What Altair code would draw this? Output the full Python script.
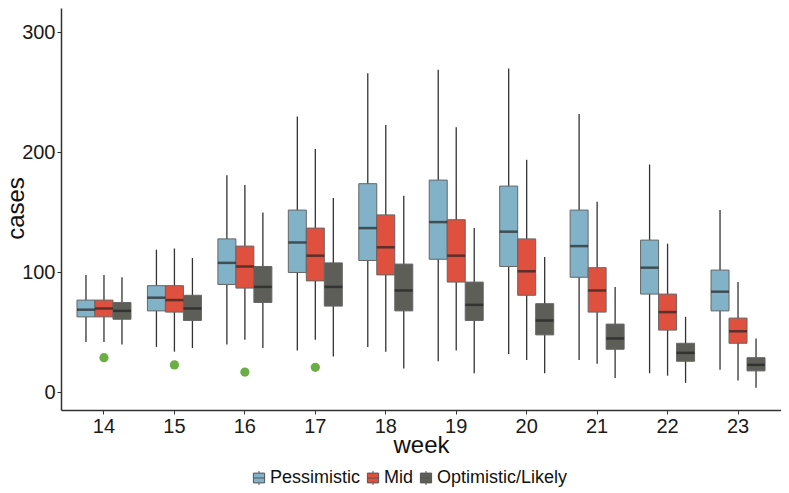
import altair as alt
import pandas as pd

weeks = [14, 15, 16, 17, 18, 19, 20, 21, 22, 23]
scenarios = ["Pessimistic", "Mid", "Optimistic/Likely"]
colors = ["#82B2C8", "#E0503E", "#5C5E57"]

pess_lo = [42, 38, 40, 35, 38, 26, 32, 27, 16, 19]
pess_q1 = [63, 68, 90, 100, 110, 111, 105, 96, 82, 68]
pess_med = [69, 79, 108, 125, 137, 142, 134, 122, 104, 84]
pess_q3 = [77, 89, 128, 152, 174, 177, 172, 152, 127, 102]
pess_hi = [98, 119, 181, 230, 266, 269, 270, 232, 190, 152]

mid_lo = [42, 34, 44, 44, 34, 35, 27, 24, 14, 10]
mid_q1 = [63, 67, 87, 93, 98, 92, 81, 67, 52, 41]
mid_med = [70, 77, 105, 114, 121, 114, 101, 85, 67, 51]
mid_q3 = [77, 89, 122, 137, 148, 144, 128, 104, 82, 62]
mid_hi = [98, 120, 173, 203, 223, 221, 194, 159, 124, 92]

opt_lo = [40, 37, 37, 30, 20, 16, 16, 12, 8, 4]
opt_q1 = [61, 60, 75, 72, 68, 60, 48, 36, 26, 18]
opt_med = [68, 70, 88, 88, 85, 73, 60, 45, 33, 23]
opt_q3 = [75, 81, 105, 108, 107, 92, 74, 57, 41, 29]
opt_hi = [96, 112, 150, 162, 164, 137, 113, 88, 63, 45]

obs_weeks = [14, 15, 16, 17]
obs_cases = [29, 23, 17, 21]

rows = []
for name, lo, q1, med, q3, hi in [
    ("Pessimistic", pess_lo, pess_q1, pess_med, pess_q3, pess_hi),
    ("Mid", mid_lo, mid_q1, mid_med, mid_q3, mid_hi),
    ("Optimistic/Likely", opt_lo, opt_q1, opt_med, opt_q3, opt_hi),
]:
    for i, w in enumerate(weeks):
        rows.append(dict(week=w, scenario=name, lo=lo[i], q1=q1[i], med=med[i], q3=q3[i], hi=hi[i]))
df = pd.DataFrame(rows)
obs = pd.DataFrame({"week": obs_weeks, "cases": obs_cases})

font = "Liberation Sans"
xscale = alt.Scale(domain=weeks, paddingInner=0, paddingOuter=0.11)
yscale = alt.Scale(domain=[-14.6, 320.4], nice=False, zero=False)
offscale = alt.Scale(domain=scenarios, paddingInner=0, paddingOuter=0.457)

x = alt.X("week:O", scale=xscale, title="week",
          axis=alt.Axis(labelAngle=0, titleY=42, titleBaseline="alphabetic"))
xoff = alt.XOffset("scenario:N", scale=offscale)

base = alt.Chart(df)

whisk = base.mark_rule(color="#333333", strokeWidth=1.3).encode(
    x=x, xOffset=xoff,
    y=alt.Y("lo:Q", scale=yscale, title="cases",
            axis=alt.Axis(values=[0, 100, 200, 300], titleX=-38, titleY=200,
                          titleBaseline="alphabetic")),
    y2="hi:Q",
)

box = base.mark_bar(stroke="#666666", strokeWidth=1).encode(
    x=x, xOffset=xoff,
    y=alt.Y("q1:Q", scale=yscale),
    y2="q3:Q",
    color=alt.Color("scenario:N", scale=alt.Scale(domain=scenarios, range=colors),
                    legend=alt.Legend(title=None, orient="none", direction="horizontal",
                                      legendX=189, legendY=461,
                                      symbolType="M-0.8,-0.7H0.8V0.7H-0.8Z M-0.8,0H0.8 M0,-0.7V-1 M0,0.7V1",
                                      symbolSize=196, symbolStrokeColor="#555555",
                                      symbolStrokeWidth=1, symbolOpacity=1,
                                      labelFontSize=18, labelFont=font, labelColor="#111111",
                                      columnPadding=3, labelOffset=2, padding=0)),
)

med = base.mark_tick(color="#222222", size=18, thickness=2.5).encode(
    x=x, xOffset=xoff,
    y=alt.Y("med:Q", scale=yscale),
)

pts = alt.Chart(obs).mark_circle(color="#6BAE45", size=85, opacity=1).encode(
    x=alt.X("week:O", scale=xscale),
    y=alt.Y("cases:Q", scale=yscale),
)

chart = alt.layer(whisk, box, med, pts).properties(
    width=720, height=402,
    padding={"left": 53, "top": 0, "right": 0, "bottom": 77},
    autosize=alt.AutoSizeParams(type="none"),
).configure_view(stroke=None).configure_axis(
    grid=False, domainColor="#333333", domainWidth=1.5, tickColor="#333333",
    tickSize=4, labelFont=font, labelFontSize=20, labelColor="#1a1a1a",
    titleFont=font, titleFontSize=24, titleFontWeight="normal", titleColor="#111111",
    labelPadding=2,
)

chart.save("out.html", embed_options={"renderer": "svg", "actions": False})
